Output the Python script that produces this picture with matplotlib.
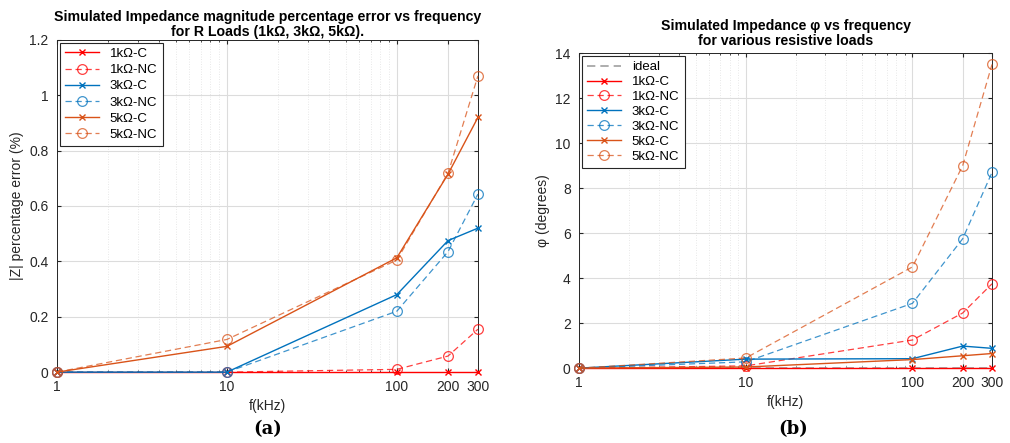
import numpy as np
import matplotlib.pyplot as plt
from matplotlib.ticker import FixedLocator, NullFormatter

# frecuencias (kHz)
f = [1, 10, 100, 200, 300]

# (a) error de |Z| en %
err_1k_c = [0, 0, 0, 0, 0]
err_1k_nc = [0, 0, 0.01, 0.058, 0.155]
err_3k_c = [0, 0, 0.28, 0.475, 0.52]
err_3k_nc = [0, 0, 0.22, 0.435, 0.643]
err_5k_c = [0, 0.093, 0.413, 0.715, 0.92]
err_5k_nc = [0, 0.118, 0.405, 0.718, 1.07]

# (b) fase en grados
ideal = [0, 0, 0, 0, 0]
ph_1k_c = [0, 0, 0, 0, 0]
ph_1k_nc = [0, 0.1, 1.25, 2.45, 3.75]
ph_3k_c = [0, 0.4, 0.42, 0.98, 0.88]
ph_3k_nc = [0, 0.28, 2.88, 5.75, 8.7]
ph_5k_c = [0, 0.05, 0.38, 0.55, 0.65]
ph_5k_nc = [0, 0.45, 4.5, 9.0, 13.5]

labels = ['1k\u03a9-C', '1k\u03a9-NC', '3k\u03a9-C', '3k\u03a9-NC', '5k\u03a9-C', '5k\u03a9-NC']
red = '#ff0000'
blue = '#0072bd'
orange = '#d95319'

plt.rcParams['font.family'] = ['Liberation Sans', 'DejaVu Sans']

fig = plt.figure(figsize=(10.1, 4.43), dpi=100)
ax1 = fig.add_axes([0.0564, 0.160, 0.4168, 0.750])
ax2 = fig.add_axes([0.5733, 0.169, 0.4089, 0.711])


def draw(ax, series):
    cols = [red, red, blue, blue, orange, orange]
    for i, (y, lab) in enumerate(zip(series, labels)):
        if i % 2 == 0:
            ax.plot(f, y, '-', marker='x', color=cols[i], lw=1.0, ms=5, mew=1.0,
                    clip_on=False, zorder=3, label=lab)
        else:
            ax.plot(f, y, '--', marker='o', color=cols[i], lw=0.9, ms=7, mfc='none',
                    mew=0.9, alpha=0.75, dashes=(5, 3), clip_on=False, zorder=3, label=lab)


def style(ax):
    ax.set_xscale('log')
    ax.set_xlim(1, 300)
    ax.xaxis.set_major_locator(FixedLocator(f))
    ax.set_xticklabels(['1', '10', '100', '200', '300'])
    ax.xaxis.set_minor_formatter(NullFormatter())
    ax.grid(True, which='major', color='#dcdcdc', lw=0.8)
    ax.grid(True, which='minor', color='#e0e0e0', lw=0.6, ls=(0, (1, 2)))
    ax.set_axisbelow(True)
    ax.tick_params(which='both', direction='in', top=True, right=True, labelsize=10,
                   colors='#262626', length=3, pad=6)
    ax.tick_params(which='minor', length=1.5)
    for s in ax.spines.values():
        s.set_color('#262626')
        s.set_linewidth(0.7)
    ax.set_xlabel('f(kHz)', fontsize=10, color='#262626', labelpad=3)


draw(ax1, [err_1k_c, err_1k_nc, err_3k_c, err_3k_nc, err_5k_c, err_5k_nc])
style(ax1)
ax1.set_ylim(0, 1.2)
ax1.set_yticks([0, 0.2, 0.4, 0.6, 0.8, 1, 1.2])
ax1.set_yticklabels(['0', '0.2', '0.4', '0.6', '0.8', '1', '1.2'])
ax1.set_ylabel('|Z| percentage error (%)', fontsize=10, color='#262626')
ax1.set_title('Simulated Impedance magnitude percentage error vs frequency\nfor R Loads (1k\u03a9, 3k\u03a9, 5k\u03a9).',
              fontsize=10.2, fontweight='bold', pad=3, linespacing=1.1)
leg1 = ax1.legend(loc='upper left', fontsize=9.5, fancybox=False, edgecolor='#262626',
                  framealpha=1, borderaxespad=0.2, handlelength=2.6, labelspacing=0.3)
leg1.get_frame().set_linewidth(0.8)

ax2.plot(f, ideal, '--', color='#a0a0a0', lw=1.2, dashes=(5, 3), label='ideal')
draw(ax2, [ph_1k_c, ph_1k_nc, ph_3k_c, ph_3k_nc, ph_5k_c, ph_5k_nc])
style(ax2)
ax2.set_ylim(0, 14)
ax2.set_yticks(range(0, 15, 2))
ax2.set_ylabel('\u03c6 (degrees)', fontsize=10, color='#262626')
ax2.set_title('Simulated Impedance \u03c6 vs frequency\nfor various resistive loads',
              fontsize=10.2, fontweight='bold', pad=6, linespacing=1.1)
leg2 = ax2.legend(loc='upper left', fontsize=9.5, fancybox=False, edgecolor='#262626',
                  framealpha=1, borderaxespad=0.2, handlelength=2.6, labelspacing=0.2)
leg2.get_frame().set_linewidth(0.8)

fig.text(0.265, 0.02, '(a)', fontsize=13, fontweight='bold', family='DejaVu Serif', ha='center')
fig.text(0.785, 0.02, '(b)', fontsize=13, fontweight='bold', family='DejaVu Serif', ha='center')

fig.savefig('out.png', dpi=100)
